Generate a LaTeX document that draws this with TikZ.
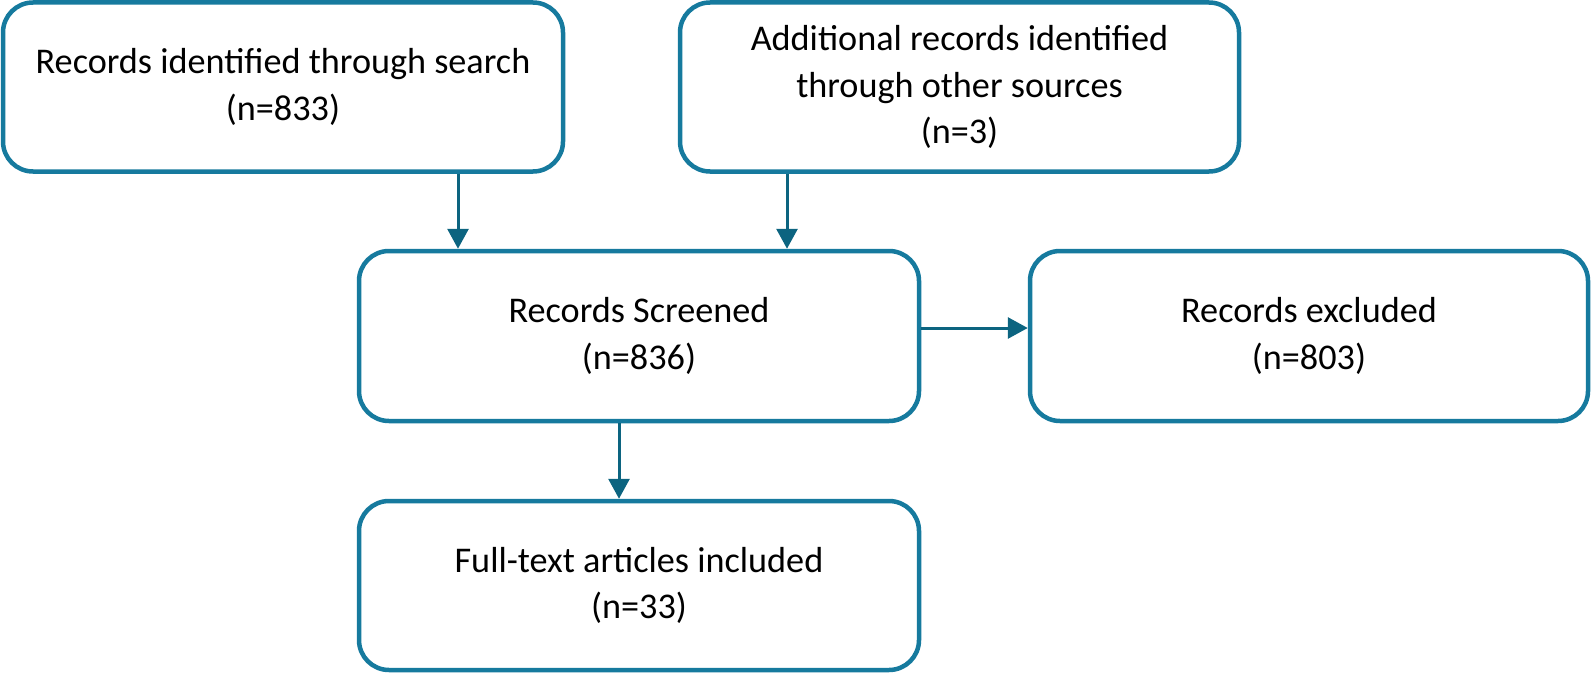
\documentclass[tikz,border=0pt]{standalone}
\usepackage{fontspec}
\setmainfont{Carlito}
\usetikzlibrary{arrows.meta}
\definecolor{boxblue}{RGB}{22,122,158}
\definecolor{arrowblue}{RGB}{12,100,128}
\begin{document}
\begin{tikzpicture}[x=1pt,y=-1pt,
  box/.style={draw=boxblue, line width=4.5pt, rounded corners=30pt, fill=white,
    inner sep=0pt, align=center, text=black,
    font=\fontsize{36.2}{46.5}\selectfont},
  arr/.style={draw=arrowblue, line width=3pt, -{Triangle[width=21pt,length=20pt]}}]
\useasboundingbox (0,0) rectangle (1592,674);
\node[box, minimum width=560pt, minimum height=169pt] (b1) at (283,87)
  {Records identified through search\\(n=833)};
\node[box, minimum width=559pt, minimum height=169pt] (b2) at (959.5,87)
  {Additional records identified\\through other sources\\(n=3)};
\node[box, minimum width=560pt, minimum height=170pt] (b3) at (639,336)
  {Records Screened\\(n=836)};
\node[box, minimum width=558pt, minimum height=170pt] (b4) at (1309,336)
  {Records excluded\\(n=803)};
\node[box, minimum width=560pt, minimum height=169pt] (b5) at (639,585.5)
  {Full-text articles included\\(n=33)};
\coordinate (xa) at (458,0);
\coordinate (xb) at (787,0);
\coordinate (xc) at (619,0);
\coordinate (yh) at (0,328);
\draw[arr] (b1.south -| xa) -- (b3.north -| xa);
\draw[arr] (b2.south -| xb) -- (b3.north -| xb);
\draw[arr] (b3.east |- yh) -- (b4.west |- yh);
\draw[arr] (b3.south -| xc) -- (b5.north -| xc);
\end{tikzpicture}
\end{document}
